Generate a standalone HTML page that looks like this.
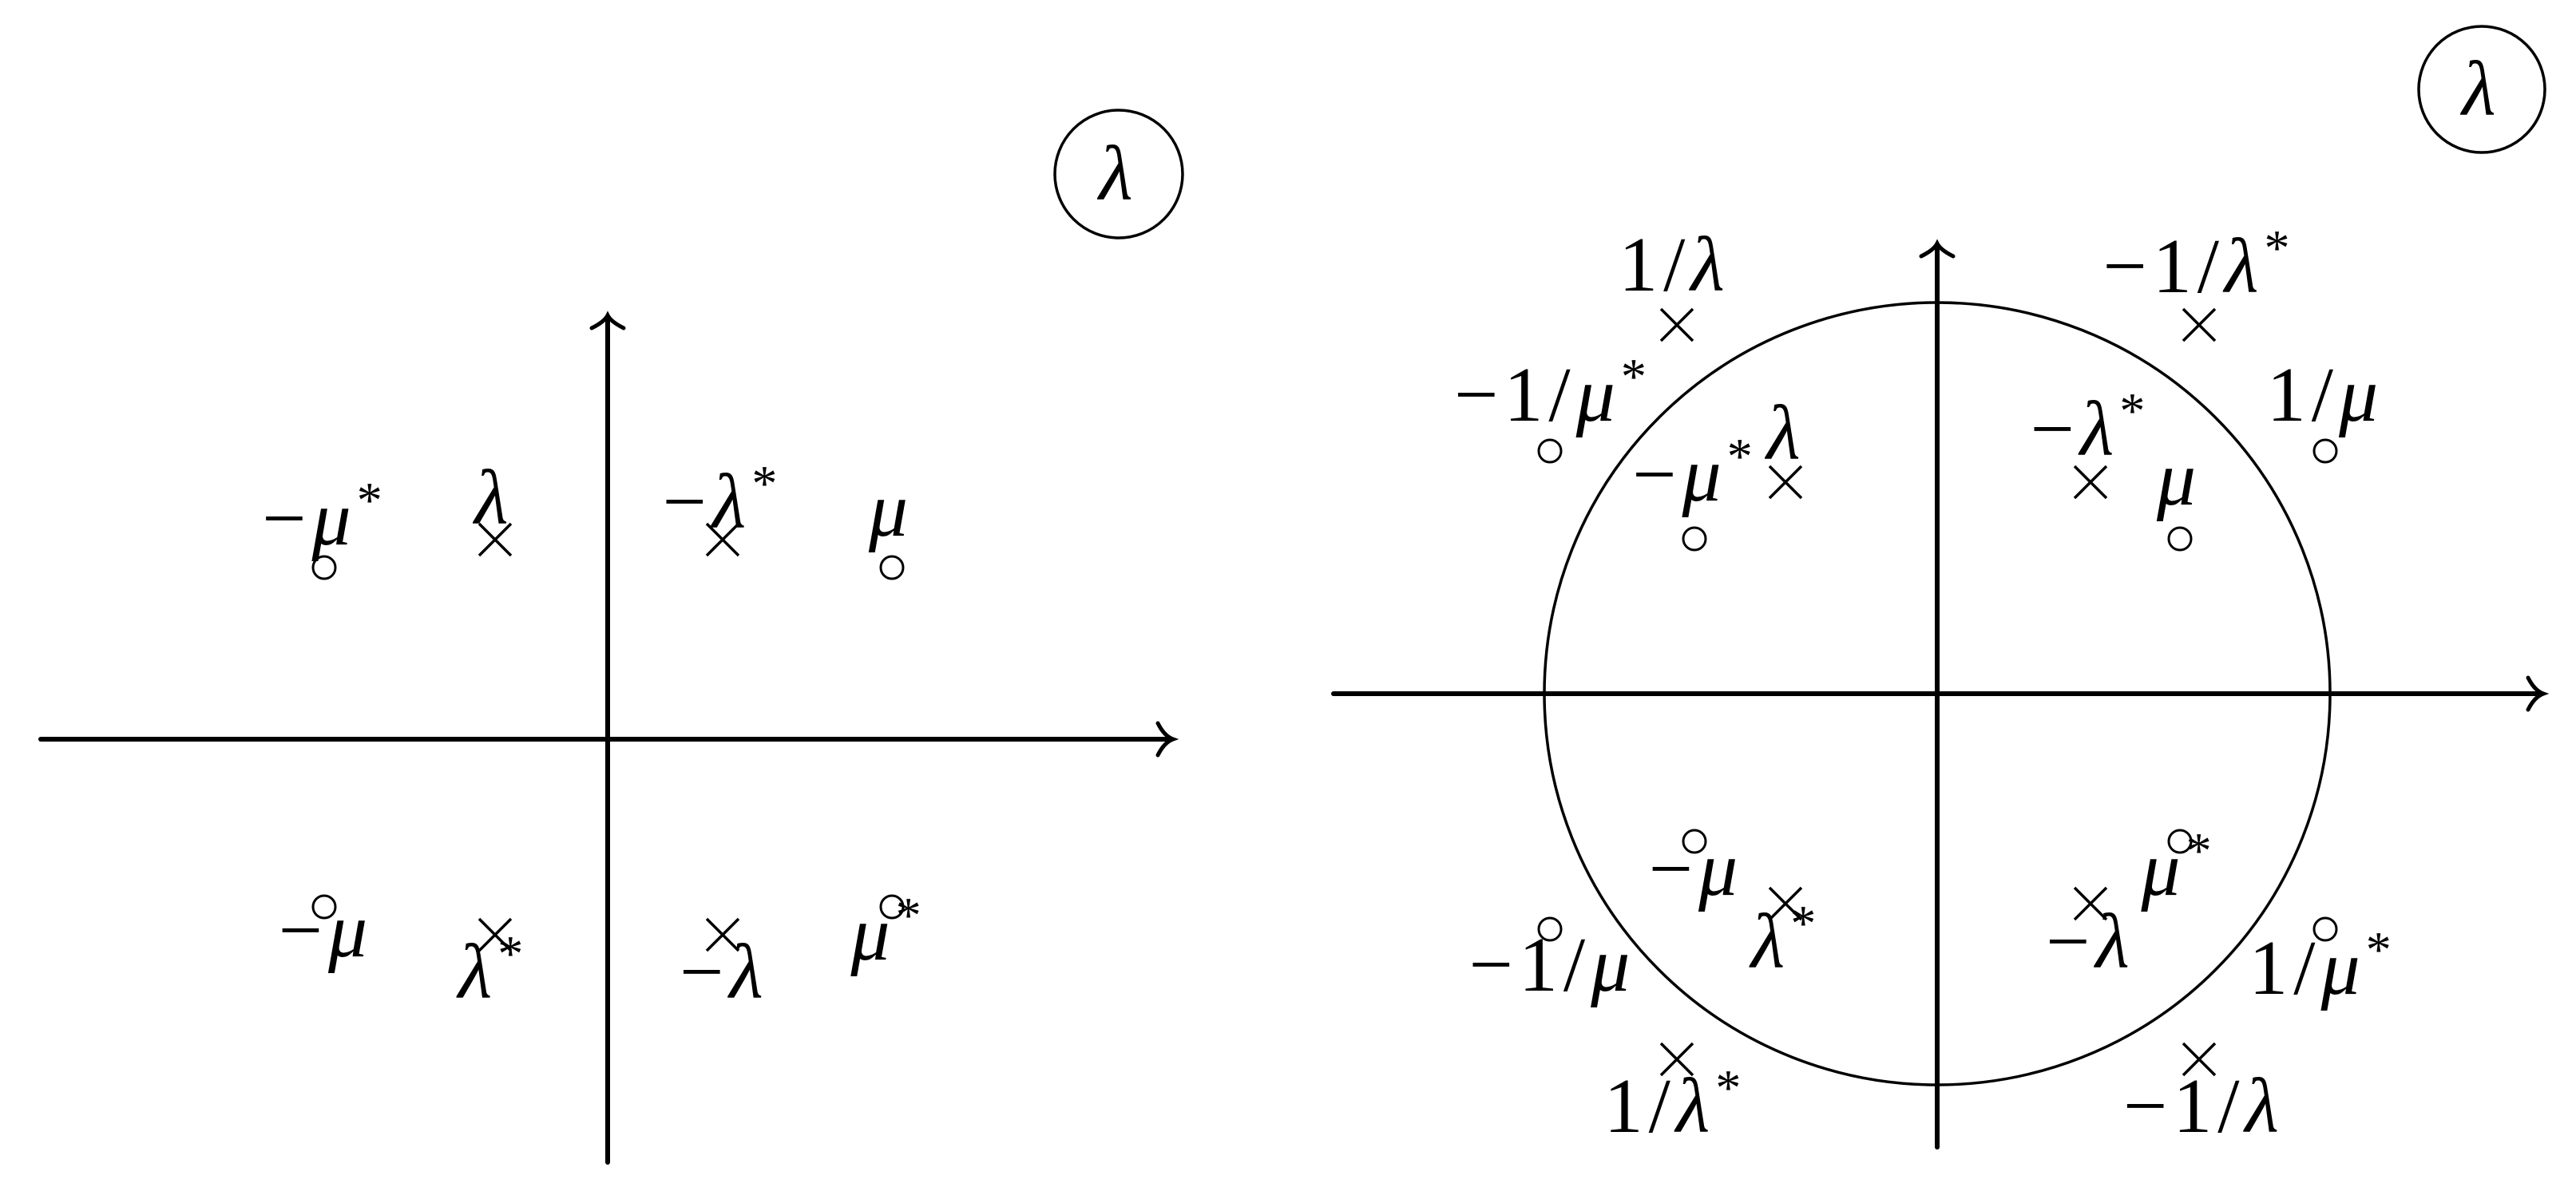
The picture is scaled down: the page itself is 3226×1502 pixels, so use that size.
<!DOCTYPE html>
<html><head><meta charset="utf-8"><style>
html,body{margin:0;padding:0;background:#fff;}
svg{display:block}
text{font-family:"Liberation Serif",serif;font-size:98px;fill:#000;text-anchor:middle;letter-spacing:7px}
.i{font-style:italic}
.s{font-size:64px}
</style></head><body>
<svg width="3226" height="1502" viewBox="0 0 3226 1502" xmlns="http://www.w3.org/2000/svg">
<defs>
<g id="x"><path d="M-20,-20L20,20M-20,20L20,-20" stroke="#000" stroke-width="3.5" fill="none"/></g>
<g id="o"><circle r="14" stroke="#000" stroke-width="3" fill="none"/></g>
</defs>
<g stroke="#000" fill="none" stroke-linecap="round">
<line x1="51" y1="926" x2="1466" y2="926" stroke-width="6"/>
<path d="M1450,906 Q1458,922 1469,926 Q1458,930 1450,946" stroke-width="5"/>
<line x1="761" y1="1456" x2="761" y2="398" stroke-width="6"/>
<path d="M741,411 Q757,403 761,395 Q765,403 781,411" stroke-width="5"/>
<circle cx="1401" cy="218" r="80" stroke-width="3.5"/>
<line x1="1670" y1="869" x2="3182" y2="869" stroke-width="6"/>
<path d="M3166,849 Q3174,865 3185,869 Q3174,873 3166,889" stroke-width="5"/>
<line x1="2426" y1="1437" x2="2426" y2="308" stroke-width="6"/>
<path d="M2406,321 Q2422,313 2426,305 Q2430,313 2446,321" stroke-width="5"/>
<ellipse cx="2426" cy="869" rx="492" ry="490" stroke-width="3.5"/>
<circle cx="3108" cy="112" r="79" stroke-width="3.5"/>
</g>
<use href="#o" x="406" y="711"/><use href="#x" x="620" y="676"/><use href="#x" x="905" y="676"/><use href="#o" x="1117" y="711"/>
<use href="#o" x="406" y="1136"/><use href="#x" x="620" y="1171"/><use href="#x" x="905" y="1171"/><use href="#o" x="1117" y="1136"/>
<use href="#x" x="2100" y="407"/><use href="#x" x="2754" y="407"/>
<use href="#o" x="1941" y="565"/><use href="#o" x="2912" y="565"/>
<use href="#x" x="2236" y="604"/><use href="#x" x="2618" y="604"/>
<use href="#o" x="2122" y="675"/><use href="#o" x="2730" y="675"/>
<use href="#o" x="2122" y="1054"/><use href="#o" x="2730" y="1054"/>
<use href="#x" x="2236" y="1132"/><use href="#x" x="2618" y="1132"/>
<use href="#o" x="1941" y="1164"/><use href="#o" x="2912" y="1164"/>
<use href="#x" x="2100" y="1327"/><use href="#x" x="2754" y="1327"/>
<text x="1401" y="250" class="i">λ</text>
<text x="3108" y="144" class="i">λ</text>
<text x="407" y="682">−<tspan class="i">μ</tspan><tspan class="s" dy="-34">*</tspan></text>
<text x="619" y="656" class="i">λ</text>
<text x="905" y="661">−<tspan class="i">λ</tspan><tspan class="s" dy="-34">*</tspan></text>
<text x="1116" y="671" class="i">μ</text>
<text x="408" y="1198">−<tspan class="i">μ</tspan></text>
<text x="618" y="1250"><tspan class="i">λ</tspan><tspan class="s" dy="-34">*</tspan></text>
<text x="907" y="1250">−<tspan class="i">λ</tspan></text>
<text x="1113" y="1202"><tspan class="i">μ</tspan><tspan class="s" dy="-34">*</tspan></text>
<text x="2097" y="364">1/<tspan class="i">λ</tspan></text>
<text x="2754" y="366">−1/<tspan class="i">λ</tspan><tspan class="s" dy="-34">*</tspan></text>
<text x="1945" y="527">−1/<tspan class="i">μ</tspan><tspan class="s" dy="-34">*</tspan></text>
<text x="2912" y="527">1/<tspan class="i">μ</tspan></text>
<text x="2237" y="575" class="i">λ</text>
<text x="2123" y="627">−<tspan class="i">μ</tspan><tspan class="s" dy="-34">*</tspan></text>
<text x="2618" y="570">−<tspan class="i">λ</tspan><tspan class="s" dy="-34">*</tspan></text>
<text x="2729" y="632" class="i">μ</text>
<text x="2124" y="1121">−<tspan class="i">μ</tspan></text>
<text x="2237" y="1212"><tspan class="i">λ</tspan><tspan class="s" dy="-34">*</tspan></text>
<text x="2729" y="1121"><tspan class="i">μ</tspan><tspan class="s" dy="-34">*</tspan></text>
<text x="2618" y="1212">−<tspan class="i">λ</tspan></text>
<text x="1944" y="1241">−1/<tspan class="i">μ</tspan></text>
<text x="2909" y="1245">1/<tspan class="i">μ</tspan><tspan class="s" dy="-34">*</tspan></text>
<text x="2098" y="1418">1/<tspan class="i">λ</tspan><tspan class="s" dy="-34">*</tspan></text>
<text x="2760" y="1418">−1/<tspan class="i">λ</tspan></text>
</svg>
</body></html>
